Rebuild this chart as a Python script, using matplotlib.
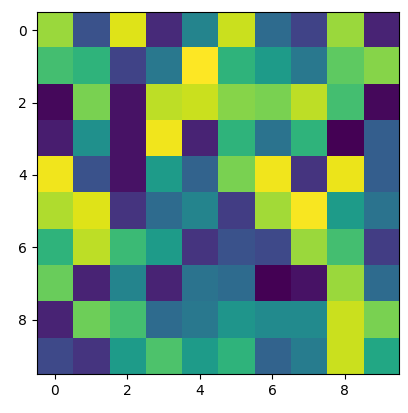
import matplotlib
matplotlib.use("Agg")
import matplotlib.pyplot as plt
import numpy as np

row0 = [0.85, 0.25, 0.95, 0.12, 0.45, 0.92, 0.35, 0.20, 0.85, 0.10]
row1 = [0.70, 0.65, 0.20, 0.40, 1.00, 0.65, 0.55, 0.40, 0.75, 0.82]
row2 = [0.02, 0.80, 0.05, 0.90, 0.92, 0.82, 0.80, 0.90, 0.70, 0.02]
row3 = [0.08, 0.50, 0.05, 0.98, 0.10, 0.65, 0.38, 0.65, 0.00, 0.30]
row4 = [0.98, 0.25, 0.05, 0.55, 0.32, 0.80, 0.98, 0.15, 0.97, 0.30]
row5 = [0.88, 0.95, 0.15, 0.35, 0.45, 0.18, 0.86, 0.99, 0.55, 0.38]
row6 = [0.65, 0.90, 0.68, 0.55, 0.15, 0.25, 0.22, 0.85, 0.70, 0.18]
row7 = [0.77, 0.10, 0.45, 0.10, 0.38, 0.35, 0.00, 0.05, 0.85, 0.35]
row8 = [0.10, 0.78, 0.70, 0.35, 0.40, 0.52, 0.48, 0.48, 0.92, 0.80]
row9 = [0.22, 0.15, 0.55, 0.72, 0.55, 0.65, 0.32, 0.42, 0.92, 0.60]
data = np.array([row0, row1, row2, row3, row4, row5, row6, row7, row8, row9])

fig, ax = plt.subplots(figsize=(4.08, 4.13), dpi=100)
fig.subplots_adjust(left=0.09, right=0.978, top=0.985, bottom=0.08)
ax.imshow(data, cmap="viridis")
fig.savefig("out.png")
